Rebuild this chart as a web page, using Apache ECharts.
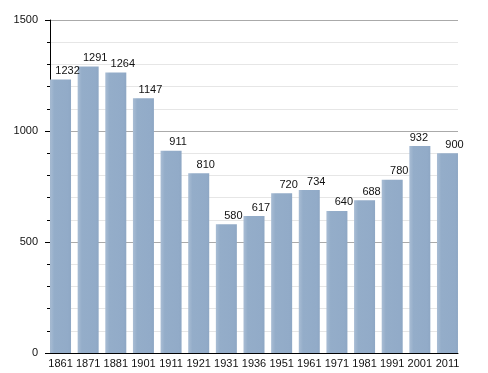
<!DOCTYPE html>
<html>
<head>
<meta charset="utf-8">
<script src="https://cdn.jsdelivr.net/npm/echarts@6/dist/echarts.min.js"></script>
<style>html,body{margin:0;padding:0;background:#fff}#c{width:488px;height:373px}</style>
</head>
<body>
<div id="c"></div>
<script>
const years = ['1861','1871','1881','1901','1911','1921','1931','1936','1951','1961','1971','1981','1991','2001','2011'];
const population = [1232,1291,1264,1147,911,810,580,617,720,734,640,688,780,932,900];
const yTicks = [0, 500, 1000, 1500];

const chart = echarts.init(document.getElementById('c'), null, {renderer: 'canvas'});
const font = 'Liberation Sans, Arial, sans-serif';
const barData = population.map((v, i) => i === 13 ? {value: v, label: {offset: [-1, 0]}} : v);

chart.setOption({
  animation: false,
  backgroundColor: '#fff',
  grid: [
    {left: 50, right: 30, top: 20, bottom: 20},
    {left: 46.7, right: 26.7, top: 20, bottom: 20}
  ],
  xAxis: [
    {gridIndex: 0, type: 'category', data: years, boundaryGap: true,
     axisLine: {show: true, lineStyle: {color: '#000', width: 1}},
     axisTick: {show: false}, axisLabel: {show: false}, splitLine: {show: false}},
    {gridIndex: 1, type: 'category', data: years, boundaryGap: true,
     axisLine: {show: false}, axisTick: {show: false},
     axisLabel: {show: true, color: '#111', fontFamily: font, fontSize: 11, margin: 5, interval: 0}}
  ],
  yAxis: [
    {gridIndex: 0, type: 'value', min: yTicks[0], max: yTicks[yTicks.length - 1], interval: 500,
     axisLine: {show: true, lineStyle: {color: '#000', width: 1}},
     axisTick: {show: true, length: 5, lineStyle: {color: '#000'}},
     minorTick: {show: true, splitNumber: 5, length: 3, lineStyle: {color: '#000'}},
     axisLabel: {color: '#111', fontFamily: font, fontSize: 11, margin: 12, formatter: v => String(v)},
     splitLine: {show: true, lineStyle: {color: '#aaa', width: 1}},
     minorSplitLine: {show: true, lineStyle: {color: '#e6e6e6', width: 1}}},
    {gridIndex: 1, type: 'value', min: yTicks[0], max: yTicks[yTicks.length - 1], show: false}
  ],
  series: [{
    type: 'bar',
    xAxisIndex: 1, yAxisIndex: 1,
    data: barData,
    barWidth: 21,
    itemStyle: {
      color: new echarts.graphic.LinearGradient(0, 0, 1, 0, [
        {offset: 0, color: '#a9bdd4'},
        {offset: 0.2, color: '#94adc9'},
        {offset: 0.85, color: '#92abc8'},
        {offset: 1, color: '#8ea7c4'}
      ])
    },
    label: {show: true, position: 'top', distance: 3, offset: [7, 0],
      color: '#111', fontFamily: font, fontSize: 11}
  }]
});
</script>
</body>
</html>
